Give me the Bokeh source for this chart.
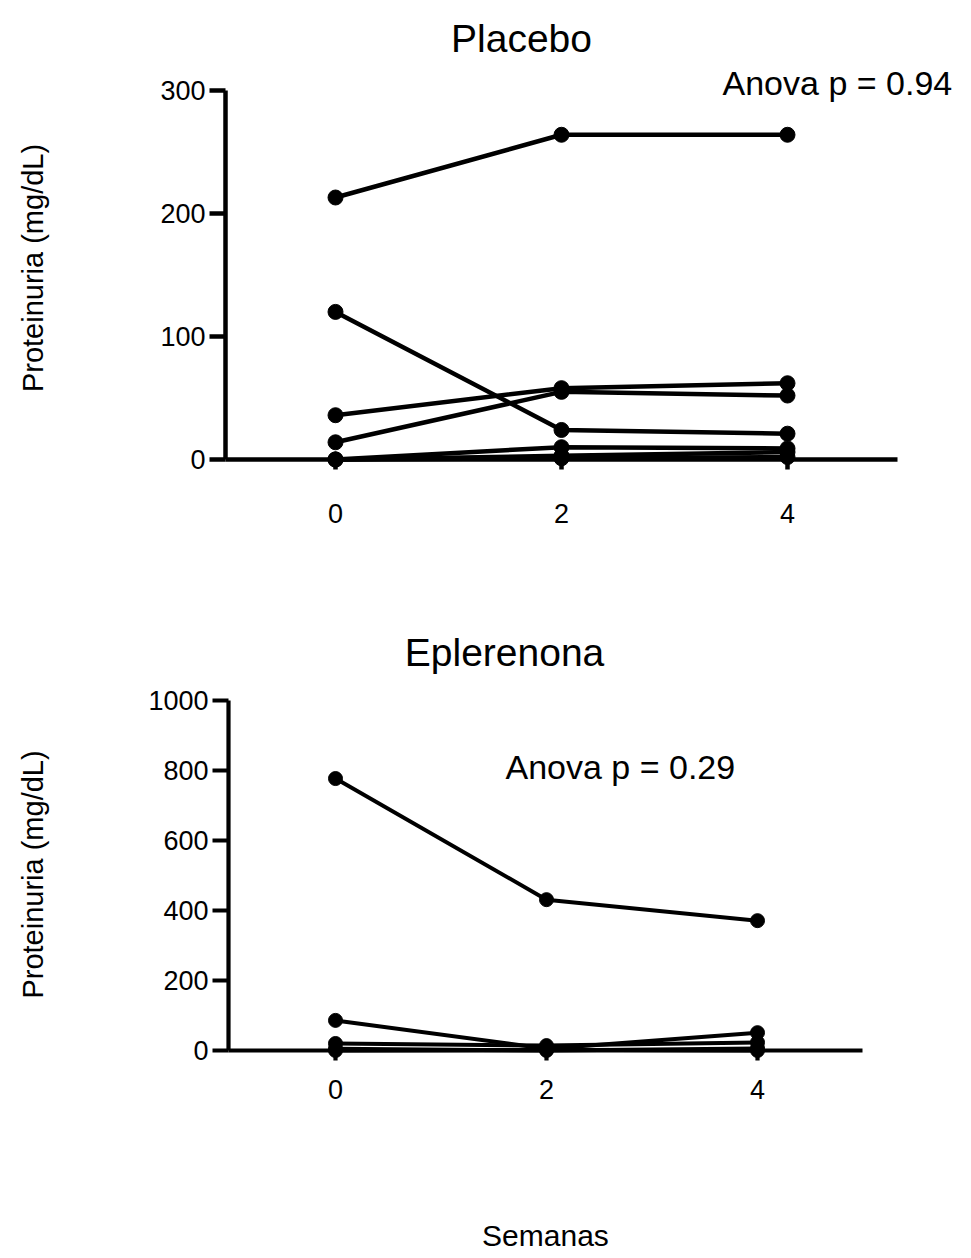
import math
from bokeh.plotting import figure
from bokeh.layouts import column
from bokeh.models import Range1d, FixedTicker, Label
from bokeh.embed import file_html
from bokeh.resources import INLINE

FONT = "Liberation Sans"

# ---- data ----
weeks = [0, 2, 4]

placebo_series = [
    [213, 264, 264],
    [120, 24, 21],
    [36, 58, 62],
    [14, 55, 52],
    [0, 10, 9],
    [0, 3, 6],
    [0, 1, 2],
]

eplerenona_series = [
    [777, 431, 371],
    [86, 5, 51],
    [20, 14, 23],
    [5, 0, 6],
    [0, 2, 0],
]

placebo_yticks = [0, 100, 200, 300]
eplerenona_yticks = [0, 200, 400, 600, 800, 1000]
x_ticks = [0, 2, 4]

y_label = "Proteinuria (mg/dL)"
x_label = "Semanas"
titles = ["Placebo", "Eplerenona"]
anova_texts = ["Anova p = 0.94", "Anova p = 0.29"]


def make_fig(height, xr, yr, xbounds, ybounds, yticks, lw, x_standoff):
    p = figure(width=971, height=height, x_range=Range1d(*xr), y_range=Range1d(*yr),
               output_backend="svg", toolbar_location=None, title=None,
               min_border_left=0, min_border_right=0,
               min_border_top=0, min_border_bottom=0)
    p.outline_line_color = None
    p.xgrid.visible = False
    p.ygrid.visible = False
    p.background_fill_color = "white"
    p.border_fill_color = "white"

    xa = p.xaxis[0]
    xa.ticker = FixedTicker(ticks=x_ticks)
    xa.fixed_location = 0
    xa.bounds = xbounds
    xa.axis_line_width = lw
    xa.axis_line_color = "black"
    xa.major_tick_line_width = lw
    xa.major_tick_out = 10
    xa.major_tick_in = 0
    xa.minor_tick_line_color = None
    xa.major_label_text_font = FONT
    xa.major_label_text_font_size = "27px"
    xa.major_label_text_color = "black"
    xa.major_label_standoff = x_standoff

    ya = p.yaxis[0]
    ya.ticker = FixedTicker(ticks=yticks)
    ya.fixed_location = xbounds[0]
    ya.bounds = ybounds
    ya.axis_line_width = lw
    ya.axis_line_color = "black"
    ya.major_tick_line_width = lw
    ya.major_tick_out = 16
    ya.major_tick_in = 0
    ya.minor_tick_line_color = None
    ya.major_label_text_font = FONT
    ya.major_label_text_font_size = "27px"
    ya.major_label_text_color = "black"
    ya.major_label_standoff = 4
    return p


def lab(p, x, y, text, size, align="left", angle=0.0):
    p.add_layout(Label(x=x, y=y, text=text, text_font=FONT, text_font_size=size,
                       text_align=align, text_baseline="alphabetic",
                       text_color="black", angle=angle))


# ---- Placebo (page rows 0..600) ----
p1 = make_fig(600, (-2.9646, 5.6283), (-114.63, 373.17),
              (-0.973, 4.973), (0, 300), placebo_yticks, 4.5, 34)
for s in placebo_series:
    p1.line(weeks, s, line_color="black", line_width=4.5)
    p1.scatter(weeks, s, size=15, fill_color="black", line_color="black")

lab(p1, 1.646, 342.3, titles[0], "39px", "center")
lab(p1, 3.425, 306.5, anova_texts[0], "34px", "left")
lab(p1, -2.673, 155.7, y_label, "29px", "center", math.pi / 2)

# ---- Eplerenona (page rows 600..1258) ----
p2 = make_fig(658, (-3.1754, 6.0284), (-594.29, 1285.71),
              (-1.014, 4.995), (0, 1000), eplerenona_yticks, 4.2, 20)
for s in eplerenona_series:
    p2.line(weeks, s, line_color="black", line_width=4)
    p2.scatter(weeks, s, size=14, fill_color="black", line_color="black")

lab(p2, 1.602, 1137, titles[1], "39px", "center")
lab(p2, 1.611, 811, anova_texts[1], "34px", "left")
lab(p2, -2.863, 502.9, y_label, "29px", "center", math.pi / 2)
lab(p2, 1.99, -528, x_label, "30px", "center")

layout = column(p1, p2, spacing=0)
open("out.html", "w").write(file_html(layout, INLINE))
